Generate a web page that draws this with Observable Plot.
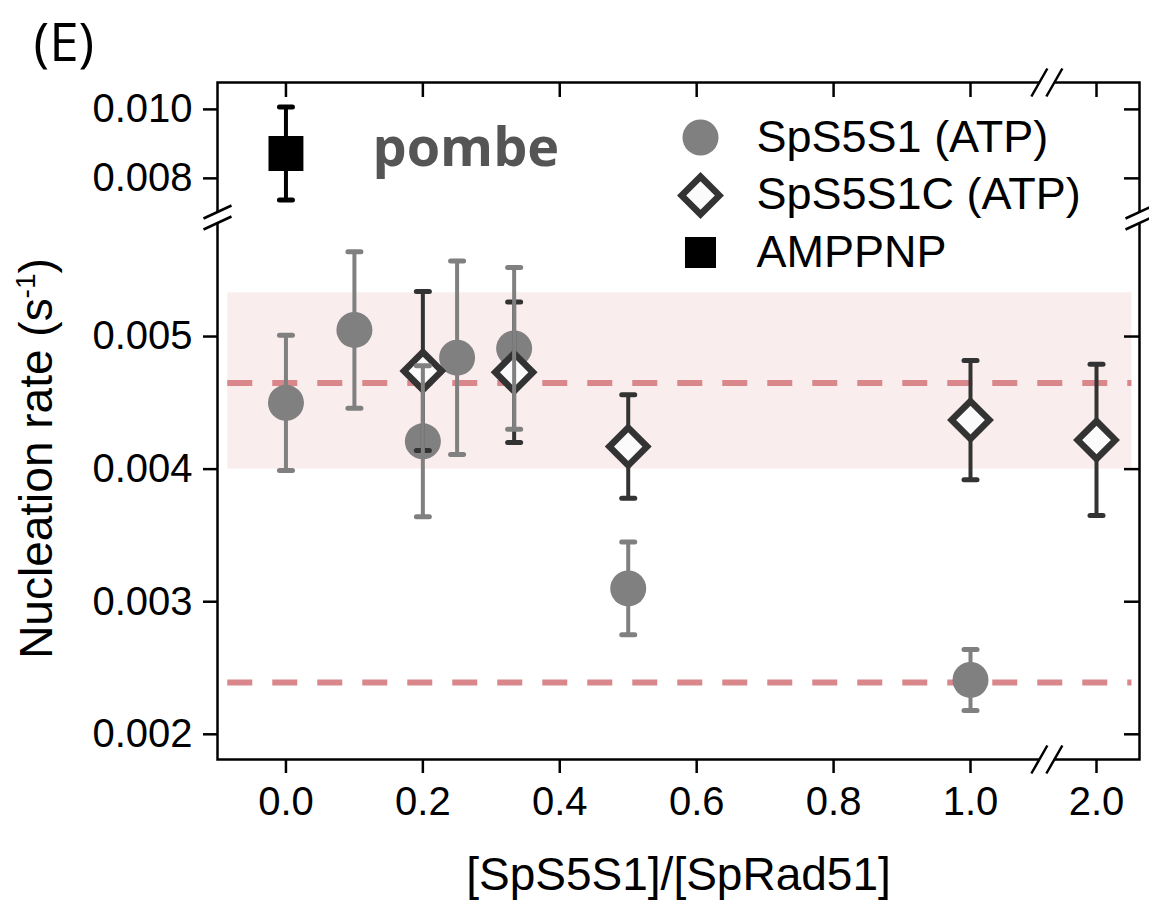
<!DOCTYPE html>
<html><head><meta charset="utf-8">
<script src="https://cdn.jsdelivr.net/npm/d3@7"></script>
<script src="https://cdn.jsdelivr.net/npm/@observablehq/plot@0.6"></script>
<style>
body{margin:0;background:#fff;}
#chart{width:1149px;height:902px;}
</style>
</head><body><div id="chart"></div>
<script>
// ---- data ----
const s5s1X   = [0.0, 0.1, 0.2, 0.25, 1/3, 0.5, 1.0];
const s5s1Y   = [0.00450, 0.00505, 0.00421, 0.00484, 0.00491, 0.00310, 0.00241];
const s5s1Err = [0.00051, 0.00059, 0.00057, 0.00073, 0.00061, 0.00035, 0.00023];

const s5s1cX   = [0.2, 1/3, 0.5, 1.0, 2.0];
const s5s1cY   = [0.00474, 0.00473, 0.00417, 0.00437, 0.00422];
const s5s1cErr = [0.00060, 0.00053, 0.00039, 0.00045, 0.00057];

const amppnpX   = [0.0];
const amppnpY   = [0.00872];
const amppnpErr = [0.00135];

const refLines = [0.00465, 0.00239];
const bandX = [-0.085, 2.28];
const bandY = [0.0040, 0.00533];

const xTicks = [0.0, 0.2, 0.4, 0.6, 0.8, 1.0, 2.0];
const yTicks = [0.002, 0.003, 0.004, 0.005, 0.008, 0.010];

const seriesNames = ["SpS5S1 (ATP)", "SpS5S1C (ATP)", "AMPPNP"];
const yTitle = "Nucleation rate (s-1)";
const xTitle = "[SpS5S1]/[SpRad51]";

// broken axes: piecewise scales
const xDomain = [-0.1, 1.0, 2.0, 2.34];
const xRange  = [217, 970, 1096, 1139];
const yDomain = [0.00181, 0.00586, 0.00701, 0.01078];
const yRange  = [759, 222, 212, 82];
const breakX = 1.61;
const breakY = (yDomain[1] + yDomain[2]) / 2;

// ---- tables ----
const mk = (X, Y, E) => X.map((x, i) => ({x, y: Y[i], lo: Y[i] - E[i], hi: Y[i] + E[i]}));
const s5s1 = mk(s5s1X, s5s1Y, s5s1Err);
const s5s1c = mk(s5s1cX, s5s1cY, s5s1cErr);
const amppnp = mk(amppnpX, amppnpY, amppnpErr);
const caps = (D) => D.flatMap(d => [{x: d.x, y: d.lo}, {x: d.x, y: d.hi}]);

// ---- custom symbols ----
const capSym = {draw(c){ c.moveTo(-6.5, 0); c.lineTo(6.5, 0); }};
const brkYLines = {draw(c){ c.moveTo(-14, 1); c.lineTo(14, -12); c.moveTo(-14, 12); c.lineTo(14, -1); }};
const brkYMask  = {draw(c){ c.moveTo(-14, 1); c.lineTo(14, -12); c.lineTo(14, -1); c.lineTo(-14, 12); c.closePath(); }};
const brkXLines = {draw(c){ c.moveTo(-16, 14); c.lineTo(0, -14); c.moveTo(-1, 14); c.lineTo(15, -14); }};
const brkXMask  = {draw(c){ c.moveTo(-16, 14); c.lineTo(0, -14); c.lineTo(15, -14); c.lineTo(-1, 14); c.closePath(); }};

const W = 1149, H = 902, mL = 217, mR = 10, mT = 82, mB = 143;
const frameW = W - mL - mR, frameH = H - mT - mB;
const GRAY = "#808080", DARK = "#333333";
const SANS = "'Liberation Sans', Arial, sans-serif";

const plot = Plot.plot({
  width: W, height: H,
  marginLeft: mL, marginRight: mR, marginTop: mT, marginBottom: mB,
  style: {fontFamily: SANS, fontSize: "40px", color: "black", background: "white", overflow: "visible"},
  x: {type: "linear", domain: xDomain, range: xRange},
  y: {type: "linear", domain: yDomain, range: yRange},
  marks: [
    Plot.rect([{x1: bandX[0], x2: bandX[1], y1: bandY[0], y2: bandY[1]}], {x1: "x1", x2: "x2", y1: "y1", y2: "y2", fill: "#faeded"}),
    Plot.ruleY(refLines, {y: d => d, x1: bandX[0], x2: bandX[1], stroke: "#d9878b", strokeWidth: 6, strokeDasharray: "25,20"}),
    // circles
    Plot.dot(s5s1, {x: "x", y: "y", r: 18, fill: GRAY}),
    // dark error bars
    Plot.ruleX(s5s1c, {x: "x", y1: "lo", y2: "hi", stroke: DARK, strokeWidth: 4}),
    Plot.dot(caps(s5s1c), {x: "x", y: "y", symbol: capSym, r: 5, fill: "none", stroke: DARK, strokeWidth: 5, strokeLinecap: "round"}),
    // diamonds
    Plot.dot(s5s1c, {x: "x", y: "y", symbol: "diamond2", r: 17, fill: "#fbfbfb", stroke: DARK, strokeWidth: 6.5}),
    // gray error bars
    Plot.ruleX(s5s1, {x: "x", y1: "lo", y2: "hi", stroke: GRAY, strokeWidth: 4}),
    Plot.dot(caps(s5s1), {x: "x", y: "y", symbol: capSym, r: 5, fill: "none", stroke: GRAY, strokeWidth: 5, strokeLinecap: "round"}),
    // AMPPNP
    Plot.ruleX(amppnp, {x: "x", y1: "lo", y2: "hi", stroke: "black", strokeWidth: 4}),
    Plot.dot(caps(amppnp), {x: "x", y: "y", symbol: capSym, r: 5, fill: "none", stroke: "black", strokeWidth: 5, strokeLinecap: "round"}),
    Plot.dot(amppnp, {x: "x", y: "y", symbol: "square", r: 19.7, fill: "black"}),
    // frame and axes
    Plot.frame({stroke: "black", strokeWidth: 2.5}),
    Plot.axisX(xTicks, {tickSize: 14, tickPadding: 13, tickFormat: d3.format(".1f"), strokeWidth: 2.5, label: null}),
    Plot.axisY(yTicks, {tickSize: 14, tickPadding: 11, tickFormat: d3.format(".3f"), strokeWidth: 2.5, label: null}),
    Plot.ruleX(xTicks, {x: d => d, insetBottom: frameH - 15, stroke: "black", strokeWidth: 2.5}),
    Plot.ruleY(yTicks, {y: d => d, insetLeft: frameW - 15, stroke: "black", strokeWidth: 2.5}),
    // axis breaks
    Plot.dot([breakY], {y: d => d, frameAnchor: "left", symbol: brkYMask, r: 10, fill: "white"}),
    Plot.dot([breakY], {y: d => d, frameAnchor: "left", symbol: brkYLines, r: 10, fill: "none", stroke: "black", strokeWidth: 2.5}),
    Plot.dot([breakY], {y: d => d, frameAnchor: "right", symbol: brkYMask, r: 10, fill: "white"}),
    Plot.dot([breakY], {y: d => d, frameAnchor: "right", symbol: brkYLines, r: 10, fill: "none", stroke: "black", strokeWidth: 2.5}),
    Plot.dot([breakX], {x: d => d, frameAnchor: "top", symbol: brkXMask, r: 10, fill: "white"}),
    Plot.dot([breakX], {x: d => d, frameAnchor: "top", symbol: brkXLines, r: 10, fill: "none", stroke: "black", strokeWidth: 2.5}),
    Plot.dot([breakX], {x: d => d, frameAnchor: "bottom", symbol: brkXMask, r: 10, fill: "white"}),
    Plot.dot([breakX], {x: d => d, frameAnchor: "bottom", symbol: brkXLines, r: 10, fill: "none", stroke: "black", strokeWidth: 2.5}),
    // legend
    Plot.dot([seriesNames[0]], {frameAnchor: "top-left", dx: 700 - mL, dy: 137 - mT, r: 18, fill: GRAY}),
    Plot.dot([seriesNames[1]], {frameAnchor: "top-left", dx: 700 - mL, dy: 195 - mT, symbol: "diamond2", r: 17, fill: "#fbfbfb", stroke: DARK, strokeWidth: 6.5}),
    Plot.dot([seriesNames[2]], {frameAnchor: "top-left", dx: 700 - mL, dy: 252 - mT, symbol: "square", r: 17.5, fill: "black"}),
    ...seriesNames.map((s, i) => Plot.text([s], {text: d => d, frameAnchor: "top-left", dx: 756 - mL, dy: 137 + 57.5 * i - mT, textAnchor: "start", lineAnchor: "middle", fontSize: 45, fill: "black"})),
    // annotations
    Plot.text(["pombe"], {text: d => d, frameAnchor: "top-left", dx: 372 - mL, dy: 165 - mT, textAnchor: "start", lineAnchor: "bottom", fontFamily: "'Open Sans', sans-serif", fontWeight: 700, fontSize: 54, fill: "#555555"}),
    Plot.text(["(E)"], {text: d => d, frameAnchor: "top-left", dx: 33 - mL, dy: 60 - mT, textAnchor: "start", lineAnchor: "bottom", fontFamily: "'Open Sans', sans-serif", fontSize: 53, fill: "black"}),
    // axis titles
    Plot.text([yTitle], {text: d => d, frameAnchor: "left", rotate: -90, dx: 37 - mL, dy: 458 - (mT + frameH / 2), textAnchor: "middle", lineAnchor: "middle", fontSize: 46, fill: "black"}),
    Plot.text([xTitle], {text: d => d, frameAnchor: "bottom", dy: 889 - (H - mB), textAnchor: "middle", lineAnchor: "bottom", fontSize: 46, fill: "black"})
  ]
});

// superscript in y title
for (const t of plot.querySelectorAll("text")) {
  if (t.textContent === yTitle) {
    t.textContent = "";
    const ns = "http://www.w3.org/2000/svg";
    const a = document.createElementNS(ns, "tspan"); a.textContent = "Nucleation rate (s";
    const b = document.createElementNS(ns, "tspan"); b.textContent = "-1"; b.setAttribute("font-size", "28"); b.setAttribute("dy", "-17");
    const c = document.createElementNS(ns, "tspan"); c.textContent = ")"; c.setAttribute("dy", "17");
    t.append(a, b, c);
  }
}
document.getElementById("chart").append(plot);
</script>
</body></html>
